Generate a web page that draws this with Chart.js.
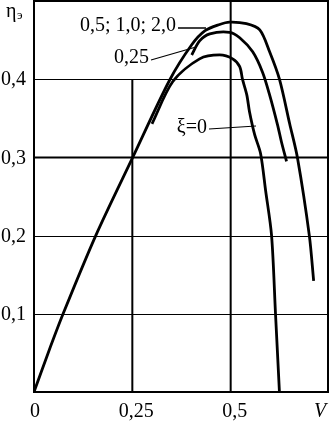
<!DOCTYPE html>
<html>
<head>
<meta charset="utf-8">
<script src="https://cdn.jsdelivr.net/npm/chart.js@4.4.0/dist/chart.umd.min.js"></script>
<style>
  html, body { margin: 0; padding: 0; background: #fff; }
  #wrap { width: 330px; height: 425px; position: relative; }
</style>
</head>
<body>
<div id="wrap"><canvas id="chart"></canvas></div>
<script>
// кривые η_э(V) для разных ξ
const vTop   = [0, 0.036, 0.074, 0.157, 0.251, 0.345, 0.401, 0.435, 0.472, 0.497, 0.54, 0.574, 0.599, 0.624, 0.650, 0.670, 0.70, 0.711];
const etaTop = [0, 0.05, 0.1, 0.2, 0.3, 0.399, 0.444, 0.462, 0.470, 0.473, 0.471, 0.463, 0.435, 0.40, 0.343, 0.299, 0.2, 0.142];

const v025   = [0.401, 0.421, 0.447, 0.497, 0.523, 0.556, 0.581, 0.599, 0.619, 0.629, 0.642];
const eta025 = [0.431, 0.449, 0.458, 0.460, 0.453, 0.435, 0.409, 0.38, 0.342, 0.32, 0.295];

const v0     = [0.30, 0.353, 0.421, 0.472, 0.505, 0.523, 0.530, 0.541, 0.548, 0.561, 0.576, 0.589, 0.604, 0.614, 0.624];
const eta0   = [0.343, 0.397, 0.426, 0.431, 0.426, 0.416, 0.400, 0.380, 0.358, 0.329, 0.305, 0.257, 0.2, 0.1, 0.0];

const xTicks = [0, 0.25, 0.5];
const xTickLabels = ['0', '0,25', '0,5'];
const yTicks = [0.1, 0.2, 0.3, 0.4];
const yTickLabels = ['0,1', '0,2', '0,3', '0,4'];

const toPts = (xs, ys) => xs.map((x, i) => ({ x: x, y: ys[i] }));

const FONT = '"Liberation Serif", "DejaVu Serif", serif';

const gridPlugin = {
  id: 'gridPlugin',
  beforeDatasetsDraw(chart) {
    const { ctx, chartArea: a, scales: { x, y } } = chart;
    ctx.save();
    ctx.strokeStyle = '#000';
    const hline = (v, w) => {
      ctx.lineWidth = w;
      ctx.beginPath();
      ctx.moveTo(a.left, Math.round(y.getPixelForValue(v)) + 0.5);
      ctx.lineTo(a.right, Math.round(y.getPixelForValue(v)) + 0.5);
      ctx.stroke();
    };
    hline(0.1, 1);
    hline(0.2, 1);
    hline(0.4, 1);
    hline(0.3, 2);
    // вертикали
    ctx.lineWidth = 2;
    ctx.beginPath();
    ctx.moveTo(x.getPixelForValue(0.5), a.top);
    ctx.lineTo(x.getPixelForValue(0.5), a.bottom);
    ctx.moveTo(x.getPixelForValue(0.25), y.getPixelForValue(0.4));
    ctx.lineTo(x.getPixelForValue(0.25), a.bottom);
    ctx.stroke();
    // рамка
    ctx.strokeRect(a.left, a.top, a.right - a.left - 1, a.bottom - a.top);
    ctx.restore();
  },
  afterDraw(chart) {
    const { ctx, chartArea: a, scales: { x, y } } = chart;
    ctx.save();
    ctx.fillStyle = '#000';
    ctx.strokeStyle = '#000';
    ctx.font = '20px ' + FONT;
    ctx.textBaseline = 'middle';

    // подписи оси Y
    ctx.textAlign = 'left';
    yTicks.forEach((v, i) => ctx.fillText(yTickLabels[i], 1, y.getPixelForValue(v) + 1));

    // подписи оси X
    ctx.textAlign = 'center';
    xTicks.forEach((v, i) => {
      const off = i === 0 ? 1 : 4;
      ctx.fillText(xTickLabels[i], x.getPixelForValue(v) + off, a.bottom + 20);
    });
    ctx.font = 'italic 20px ' + FONT;
    ctx.fillText('V', 320, a.bottom + 20);

    // η_э
    ctx.font = '20px ' + FONT;
    ctx.textAlign = 'left';
    ctx.fillText('η', 6, 12);
    ctx.font = '13px ' + FONT;
    ctx.fillText('э', 17, 16);

    // подписи кривых
    ctx.font = '20px ' + FONT;
    ctx.textAlign = 'right';
    ctx.fillText('0,5; 1,0; 2,0', 176, 26);
    ctx.fillText('0,25', 149, 58);
    ctx.fillText('ξ=0', 207, 128);

    ctx.lineWidth = 1.5;
    ctx.beginPath();
    ctx.moveTo(178, 28);
    ctx.lineTo(206, 28);
    ctx.stroke();
    ctx.lineWidth = 1.2;
    ctx.beginPath();
    ctx.moveTo(151, 60);
    ctx.lineTo(196, 47);
    ctx.moveTo(209, 129);
    ctx.lineTo(256, 126);
    ctx.stroke();
    ctx.restore();
  }
};

const lineStyle = {
  showLine: true,
  borderColor: '#000',
  borderWidth: 2.8,
  pointRadius: 0,
  fill: false,
  tension: 0.3
};

new Chart(document.getElementById('chart'), {
  type: 'scatter',
  data: {
    datasets: [
      Object.assign({ label: '0,5; 1,0; 2,0', data: toPts(vTop, etaTop) }, lineStyle),
      Object.assign({ label: '0,25', data: toPts(v025, eta025) }, lineStyle),
      Object.assign({ label: 'ξ=0', data: toPts(v0, eta0) }, lineStyle)
    ]
  },
  options: {
    responsive: true,
    maintainAspectRatio: false,
    animation: false,
    layout: { padding: { left: 34, right: 1, top: 1, bottom: 33 } },
    scales: {
      x: { type: 'linear', min: 0, max: 0.75, display: false },
      y: { type: 'linear', min: 0, max: 0.5, display: false }
    },
    plugins: { legend: { display: false }, tooltip: { enabled: false } }
  },
  plugins: [gridPlugin]
});
</script>
</body>
</html>
